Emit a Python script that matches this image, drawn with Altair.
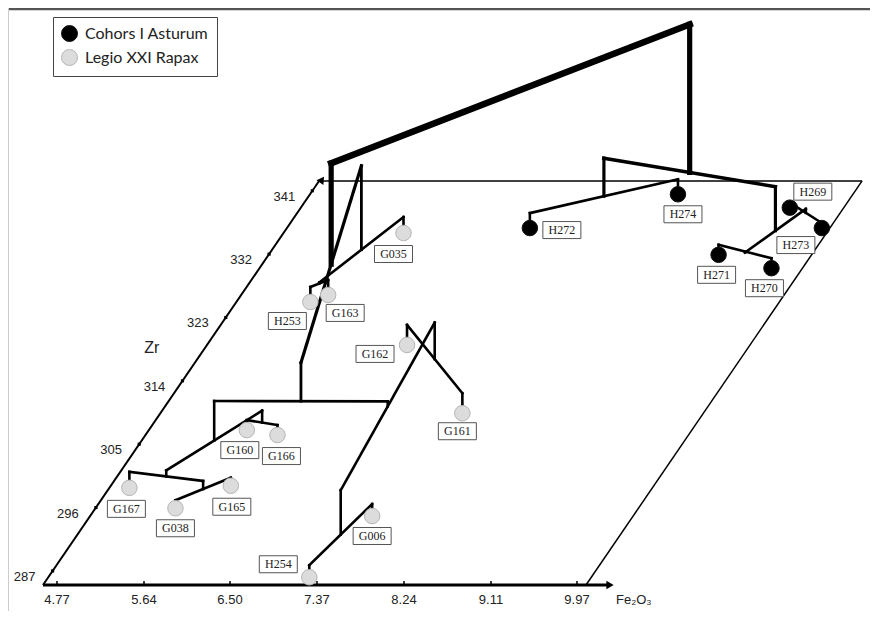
import altair as alt
import pandas as pd

# ---------------- data ----------------
sample_ids = ["H272", "H274", "H269", "H273", "H271", "H270",
              "G035", "H253", "G163", "G162", "G161", "G160",
              "G166", "G167", "G038", "G165", "G006", "H254"]
sample_groups = ["Cohors I Asturum"] * 6 + ["Legio XXI Rapax"] * 12
fe2o3 = [7.06, 8.31, 9.52, 9.98, 9.13, 9.75,
         5.83, 5.37, 5.50, 6.63, 7.65, 5.61,
         5.95, 4.83, 5.43, 5.83, 7.45, 7.24]
zr = [335.7, 340.5, 338.6, 335.7, 331.9, 330.0,
      335.0, 325.2, 326.2, 319.1, 309.4, 307.0,
      306.3, 298.8, 295.9, 299.1, 294.8, 286.1]

# dendrogram: cluster name, left member, right member, linkage height
node_names = ["D", "E", "J", "I", "H", "G1", "K", "N", "M", "G", "F",
              "A", "P", "Q", "B", "AB", "ROOT"]
node_left = ["H253", "D", "G038", "G167", "G160", "I", "G162", "H254", "K", "G1", "E",
             "H272", "H269", "H271", "Q", "A", "F"]
node_right = ["G163", "G035", "G165", "J", "G166", "H", "G161", "G006", "N", "M", "G",
              "H274", "H273", "H270", "P", "B", "AB"]
node_height = [1.5, 1.6, 0.8, 1.6, 1.0, 2.2, 2.0, 1.2, 5.65, 6.15, 10.0,
               1.5, 0.5, 1.0, 0.9, 5.3, 20.1]

fe_ticks = [4.77, 5.64, 6.50, 7.37, 8.24, 9.11, 9.97]
zr_ticks = [287, 296, 305, 314, 323, 332, 341]
legend_groups = ["Cohors I Asturum", "Legio XXI Rapax"]
legend_fill = ["#000000", "#dcdcdc"]
legend_stroke = ["#111111", "#b5b5b5"]

# ---------------- layout (oblique projection of the Fe2O3 / Zr plane) ----------------
FE_MIN, FE_MAX, FE_ARROW = 4.63, 10.06, 10.33
ZR_MIN, ZR_MAX, ZR_ARROW = 285.0, 342.4, 343.0
X0, Y0 = 43.0, 585.0
PX_PER_FE = 100.0
ZR_DX, ZR_DY = 4.81, 7.04
PX_PER_H = 10.0

# label box offsets (px) relative to each sample symbol
label_dx = [32, 5, 23, -26, -2, -7, -10, -23, 17, -32, -5, -7, 4, -3, 0, 1, 0, -31]
label_dy = [2, 20, -16, 17, 20, 20, 21, 19, 18, 9, 18, 20, 21, 21, 20, 21, 20, -13]


def proj(fe, z, h=0.0):
    x = X0 + (fe - FE_MIN) * PX_PER_FE + (z - ZR_MIN) * ZR_DX
    y = Y0 - (z - ZR_MIN) * ZR_DY - h * PX_PER_H
    return x, y


# ---------------- build tables ----------------
plane = {}
hgt = {}
for s, f, z in zip(sample_ids, fe2o3, zr):
    plane[s] = (f, z)
    hgt[s] = 0.0

widths = {"ROOT": (6.5, 5.2), "F": (3.2, 2.8), "AB": (3.6, 3.2)}
segs = []
for n, l, r, h in zip(node_names, node_left, node_right, node_height):
    plane[n] = ((plane[l][0] + plane[r][0]) / 2, (plane[l][1] + plane[r][1]) / 2)
    hgt[n] = h
    jw, vw = widths.get(n, (2.6, 2.6))
    for c in (l, r):
        x1, y1 = proj(*plane[c], hgt[c])
        x2, y2 = proj(*plane[c], h)
        segs.append(dict(x=x1, y=y1, x2=x2, y2=y2, w=vw))
    xa, ya = proj(*plane[l], h)
    xb, yb = proj(*plane[r], h)
    segs.append(dict(x=xa, y=ya, x2=xb, y2=yb, w=jw))
seg_df = pd.DataFrame(segs)

pts = []
for s, g, f, z, dx, dy in zip(sample_ids, sample_groups, fe2o3, zr, label_dx, label_dy):
    x, y = proj(f, z)
    pts.append(dict(id=s, group=g, x=x, y=y, lx=x + dx, ly=y + dy,
                    bx=x + dx - 19, bx2=x + dx + 19, by=y + dy - 8.5, by2=y + dy + 8.5))
pt_df = pd.DataFrame(pts)

edges = []
for (f1, z1), (f2, z2), w in [
    ((FE_MIN, ZR_MAX), (FE_MAX, ZR_MAX), 1.5),
    ((FE_MAX, ZR_MAX), (FE_MAX, ZR_MIN), 1.5),
    ((FE_MIN, ZR_MIN), (FE_ARROW - 0.05, ZR_MIN), 3.0),
    ((FE_MIN, ZR_MIN), (FE_MIN, ZR_ARROW - 0.5), 2.0),
]:
    a = proj(f1, z1)
    b = proj(f2, z2)
    edges.append(dict(x=a[0], y=a[1], x2=b[0], y2=b[1], w=w))
edge_df = pd.DataFrame(edges)

ax_fe = proj(FE_ARROW, ZR_MIN)
ax_zr = proj(FE_MIN, ZR_ARROW)
arrow_df = pd.DataFrame([
    dict(x=ax_fe[0] - 3, y=ax_fe[1], shape="triangle-right", angle=0),
    dict(x=ax_zr[0], y=ax_zr[1] + 3, shape="triangle-up", angle=34),
])

fe_tick_df = pd.DataFrame([
    dict(v=f"{t:.2f}", x=proj(t, ZR_MIN)[0], y=proj(t, ZR_MIN)[1],
         y2=proj(t, ZR_MIN)[1] - 4, ty=proj(t, ZR_MIN)[1] + 15)
    for t in fe_ticks])
zr_tick_df = pd.DataFrame([
    dict(v=str(t), x=proj(FE_MIN, t)[0], y=proj(FE_MIN, t)[1],
         tx=proj(FE_MIN, t)[0] - 28, ty=proj(FE_MIN, t)[1] + 6)
    for t in zr_ticks])
zr_title = proj(FE_MIN, 318.0)
zr_title_df = pd.DataFrame([dict(t="Zr", x=zr_title[0] - 50, y=zr_title[1] - 5)])
fe_title_df = pd.DataFrame([dict(t="Fe\u2082O\u2083", x=ax_fe[0] + 3, y=ax_fe[1] + 15)])
frame_df = pd.DataFrame([
    dict(x=8, y=9, x2=870, y2=9, w=2.5, c="#555555"),
    dict(x=8.5, y=8, x2=8.5, y2=611, w=1, c="#cccccc"),
])

# ---------------- chart ----------------
xs = alt.Scale(domain=[8, 870], nice=False, zero=False)
ys = alt.Scale(domain=[8, 611], nice=False, zero=False, reverse=True)


def X(f):
    return alt.X(f"{f}:Q", scale=xs, axis=None)


def Y(f):
    return alt.Y(f"{f}:Q", scale=ys, axis=None)


frame = alt.Chart(frame_df).mark_rule().encode(
    x=X("x"), y=Y("y"), x2="x2:Q", y2="y2:Q",
    strokeWidth=alt.StrokeWidth("w:Q", scale=None),
    color=alt.Color("c:N", scale=None))

edge_layer = alt.Chart(edge_df).mark_rule(color="black").encode(
    x=X("x"), y=Y("y"), x2="x2:Q", y2="y2:Q",
    strokeWidth=alt.StrokeWidth("w:Q", scale=None))

arrow_layer = alt.Chart(arrow_df).mark_point(filled=True, color="black", opacity=1, size=70).encode(
    x=X("x"), y=Y("y"),
    shape=alt.Shape("shape:N", scale=None),
    angle=alt.Angle("angle:Q", scale=None))

fe_ticks_layer = alt.Chart(fe_tick_df).mark_rule(color="black", strokeWidth=1.5).encode(
    x=X("x"), y=Y("y"), y2="y2:Q")
fe_labels = alt.Chart(fe_tick_df).mark_text(
    font="Liberation Sans", fontSize=13, color="#222222", baseline="middle").encode(
    x=X("x"), y=Y("ty"), text="v:N")

zr_ticks_layer = alt.Chart(zr_tick_df).mark_point(
    shape="square", filled=True, color="black", opacity=1, size=10).encode(x=X("x"), y=Y("y"))
zr_labels = alt.Chart(zr_tick_df).mark_text(
    font="Liberation Sans", fontSize=13, color="#222222", baseline="middle").encode(
    x=X("tx"), y=Y("ty"), text="v:N")

zr_title_layer = alt.Chart(zr_title_df).mark_text(
    font="Liberation Sans", fontSize=16, color="#222222", baseline="middle", align="center").encode(
    x=X("x"), y=Y("y"), text="t:N")
fe_title_layer = alt.Chart(fe_title_df).mark_text(
    font="Liberation Sans, DejaVu Sans", fontSize=13, color="#222222", baseline="middle",
    align="left").encode(x=X("x"), y=Y("y"), text="t:N")

tree = alt.Chart(seg_df).mark_rule(color="black", strokeCap="square").encode(
    x=X("x"), y=Y("y"), x2="x2:Q", y2="y2:Q",
    strokeWidth=alt.StrokeWidth("w:Q", scale=None))

circles = alt.Chart(pt_df).mark_circle(opacity=1, size=240, strokeWidth=1).encode(
    x=X("x"), y=Y("y"),
    color=alt.Color("group:N",
                    scale=alt.Scale(domain=legend_groups, range=legend_fill),
                    legend=alt.Legend(title=None, orient="none", legendX=45, legendY=9,
                                      symbolType="circle", symbolSize=256, symbolOpacity=1,
                                      symbolStrokeColor="#999999", symbolStrokeWidth=1,
                                      labelFont="Lato", labelFontSize=16, labelColor="#222222",
                                      labelOffset=7, padding=8, rowPadding=3,
                                      strokeColor="#444444", fillColor="white")),
    stroke=alt.Stroke("group:N", scale=alt.Scale(domain=legend_groups, range=legend_stroke),
                      legend=None))

boxes = alt.Chart(pt_df).mark_rect(fill="white", stroke="#555555", strokeWidth=1).encode(
    x=X("bx"), x2="bx2:Q", y=Y("by"), y2="by2:Q")
box_text = alt.Chart(pt_df).mark_text(
    font="Liberation Serif", fontSize=12, color="#222222", baseline="middle").encode(
    x=X("lx"), y=Y("ly"), text="id:N")

chart = alt.layer(
    frame, edge_layer, arrow_layer, fe_ticks_layer, fe_labels, zr_ticks_layer, zr_labels,
    zr_title_layer, fe_title_layer, tree, circles, boxes, box_text
).properties(
    width=862, height=603,
    autosize=alt.AutoSizeParams(type="none"), padding=0, background="white"
).configure_view(stroke=None)

chart.save("out.html", embed_options={"renderer": "svg", "actions": False})
